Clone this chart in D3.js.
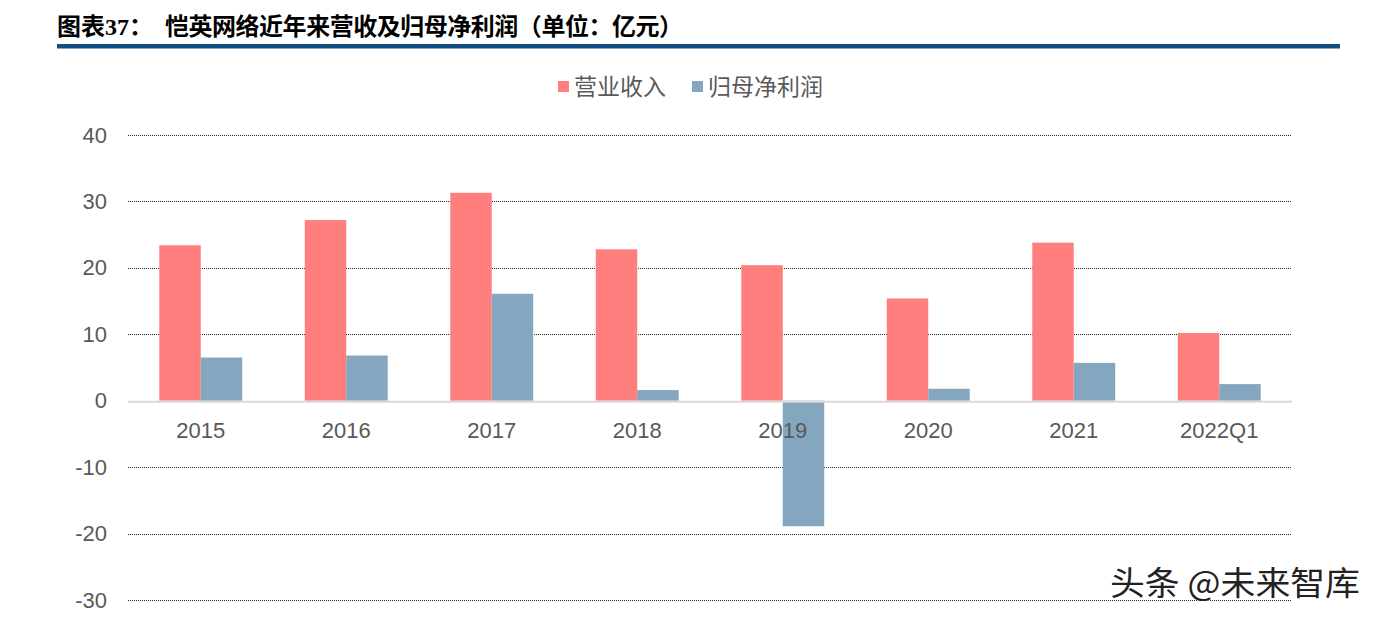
<!DOCTYPE html>
<html>
<head>
<meta charset="utf-8">
<script src="https://cdn.jsdelivr.net/npm/d3@7"></script>
<style>
  body { margin: 0; background: #fff; }
  svg { display: block; }
</style>
</head>
<body>
<script>
// data
var categories = ["2015", "2016", "2017", "2018", "2019", "2020", "2021", "2022Q1"];
var seriesNames = ["营业收入", "归母净利润"];
var revenue = [23.4, 27.2, 31.3, 22.8, 20.4, 15.4, 23.8, 10.2];
var netProfit = [6.5, 6.8, 16.1, 1.6, -18.9, 1.8, 5.7, 2.5];
var yTicks = [40, 30, 20, 10, 0, -10, -20, -30];
var colors = ["#FF7F7F", "#84A7BF"];

var width = 1381, height = 617;
var margin = { top: 135, right: 89, bottom: 17, left: 128 };

var svg = d3.select("body").append("svg")
    .attr("width", width)
    .attr("height", height);

var cjk = "'Liberation Sans', Arial, 'Noto Sans CJK SC', sans-serif";

// title
var title = svg.append("text")
    .attr("x", 57)
    .attr("y", 35)
    .attr("font-family", "'Noto Sans CJK SC', sans-serif")
    .attr("font-weight", "bold")
    .attr("font-size", 24)
    .attr("fill", "#000");
title.append("tspan").text("图表");
title.append("tspan").attr("font-family", "'Liberation Serif', serif").attr("font-size", 24).text("37");
title.append("tspan").text("：");

svg.append("text")
    .attr("x", 165)
    .attr("y", 35)
    .attr("font-family", "'Noto Sans CJK SC', sans-serif")
    .attr("font-weight", "bold")
    .attr("font-size", 24)
    .attr("fill", "#000")
    .attr("textLength", 518)
    .attr("lengthAdjust", "spacing")
    .text("恺英网络近年来营收及归母净利润（单位：亿元）");

svg.append("rect")
    .attr("x", 57).attr("y", 44)
    .attr("width", 1283).attr("height", 4.5)
    .attr("fill", "#114E82");

// scales
var y = d3.scaleLinear()
    .domain([-30, 40])
    .range([height - margin.bottom, margin.top]);

var x0 = d3.scaleBand()
    .domain(categories)
    .range([margin.left, width - margin.right])
    .paddingInner(0.43)
    .paddingOuter(0.215);

var x1 = d3.scaleBand()
    .domain(seriesNames)
    .range([0, x0.bandwidth()]);

// grid lines
svg.append("g")
    .selectAll("line")
    .data(yTicks.filter(function (d) { return d !== 0; }))
    .join("line")
    .attr("x1", margin.left)
    .attr("x2", width - margin.right)
    .attr("y1", function (d) { return Math.round(y(d)) + 0.5; })
    .attr("y2", function (d) { return Math.round(y(d)) + 0.5; })
    .attr("stroke", "#262626")
    .attr("stroke-width", 1)
    .attr("stroke-dasharray", "1,1");

// y axis labels
var yAxis = d3.axisLeft(y)
    .tickValues(yTicks)
    .tickSize(0)
    .tickPadding(0)
    .tickFormat(function (d) { return String(d); });

var yg = svg.append("g")
    .attr("transform", "translate(107,0)")
    .call(yAxis);
yg.select(".domain").remove();
yg.selectAll("text")
    .attr("font-family", cjk)
    .attr("font-size", 22)
    .attr("fill", "#595959");

// bars
var rows = categories.map(function (c, i) {
    return { cat: c, values: [revenue[i], netProfit[i]] };
});

var groups = svg.append("g")
    .selectAll("g")
    .data(rows)
    .join("g")
    .attr("transform", function (d) { return "translate(" + x0(d.cat) + ",0)"; });

groups.selectAll("rect")
    .data(function (d) {
        return d.values.map(function (v, j) { return { name: seriesNames[j], value: v, j: j }; });
    })
    .join("rect")
    .attr("x", function (d) { return x1(d.name); })
    .attr("width", x1.bandwidth())
    .attr("y", function (d) { return y(Math.max(0, d.value)); })
    .attr("height", function (d) { return Math.abs(y(d.value) - y(0)); })
    .attr("fill", function (d) { return colors[d.j]; });

// zero line
svg.append("line")
    .attr("x1", margin.left)
    .attr("x2", width - margin.right)
    .attr("y1", y(0) + 1)
    .attr("y2", y(0) + 1)
    .attr("stroke", "#D9D9D9")
    .attr("stroke-width", 2);

// x axis labels
var xAxis = d3.axisBottom(x0).tickSize(0).tickPadding(0);
var xg = svg.append("g")
    .attr("transform", "translate(0," + (y(0) + 37) + ")")
    .call(xAxis);
xg.select(".domain").remove();
xg.selectAll("text")
    .attr("dy", 0)
    .attr("font-family", cjk)
    .attr("font-size", 22)
    .attr("fill", "#595959");

// legend
var legendX = [558, 692];
var legend = svg.append("g")
    .selectAll("g")
    .data(seriesNames)
    .join("g")
    .attr("transform", function (d, i) { return "translate(" + legendX[i] + ",81)"; });
legend.append("rect")
    .attr("width", 11).attr("height", 11)
    .attr("fill", function (d, i) { return colors[i]; });
legend.append("text")
    .attr("x", 16)
    .attr("y", 14)
    .attr("font-family", "'Noto Sans CJK SC', sans-serif")
    .attr("font-size", 23)
    .attr("fill", "#595959")
    .text(function (d) { return d; });

// watermark
svg.append("text")
    .attr("x", 1110)
    .attr("y", 595)
    .attr("font-family", "'Noto Sans CJK SC', sans-serif")
    .attr("font-size", 33)
    .attr("textLength", 250)
    .attr("lengthAdjust", "spacingAndGlyphs")
    .attr("fill", "#222")
    .attr("stroke", "#fff")
    .attr("stroke-width", 1)
    .attr("paint-order", "stroke")
    .text("头条 @未来智库");
</script>
</body>
</html>
